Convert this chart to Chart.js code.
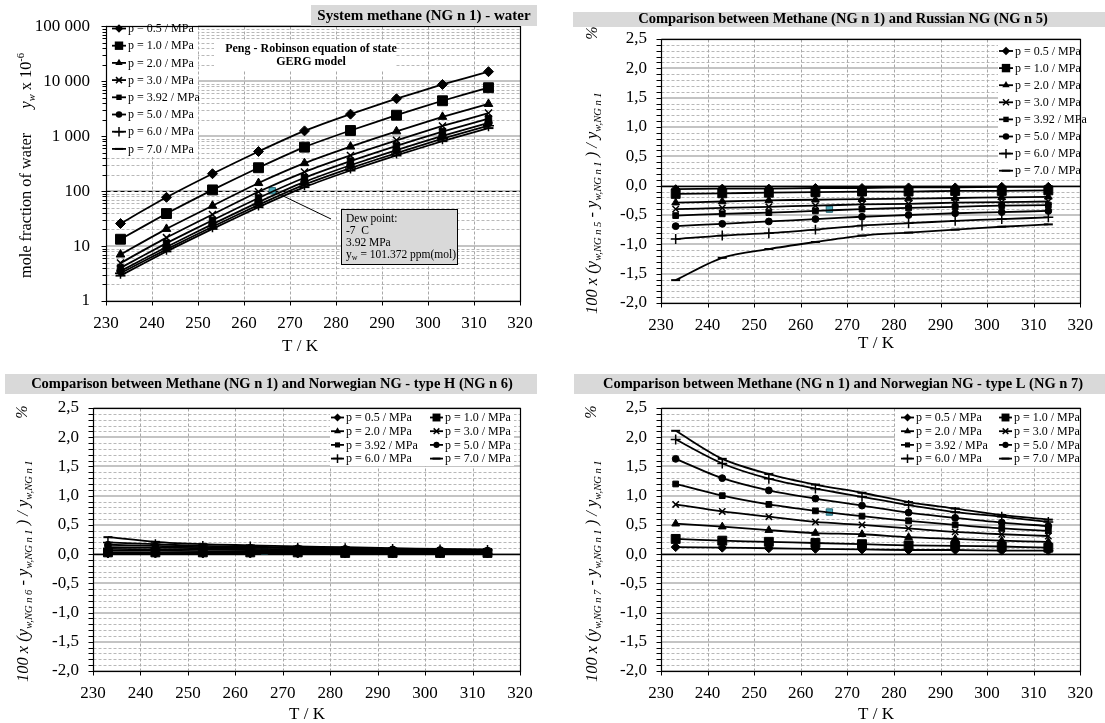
<!DOCTYPE html>
<html><head><meta charset="utf-8">
<script src="https://cdn.jsdelivr.net/npm/chart.js@4.4.1/dist/chart.umd.min.js"></script>
<style>
html,body{margin:0;padding:0;background:#fff;width:1105px;height:723px;overflow:hidden}
canvas{position:absolute;left:0;top:0}
</style>
</head><body>
<canvas id="c1" width="1105" height="723"></canvas>
<canvas id="c2" width="1105" height="723"></canvas>
<canvas id="c3" width="1105" height="723"></canvas>
<canvas id="c4" width="1105" height="723"></canvas>
<script>
// ---------------- DATA ----------------
const T_K = [233.15, 243.15, 253.15, 263.15, 273.15, 283.15, 293.15, 303.15, 313.15];
const xTickValues = [230, 240, 250, 260, 270, 280, 290, 300, 310, 320];
const logTickValues = [1, 10, 100, 1000, 10000, 100000];
const pctTickValues = [-2.0, -1.5, -1.0, -0.5, 0.0, 0.5, 1.0, 1.5, 2.0, 2.5];
const seriesLabels = ['p = 0.5 / MPa', 'p = 1.0 / MPa', 'p = 2.0 / MPa', 'p = 3.0 / MPa',
                      'p = 3.92 / MPa', 'p = 5.0 / MPa', 'p = 6.0 / MPa', 'p = 7.0 / MPa'];

// Panel 1: mole fraction of water y_w x 10^-6 (methane NG n 1)
const water_p05  = [25.7, 77, 207, 525, 1245, 2510, 4790, 8700, 14900];
const water_p10  = [13.3, 39, 105, 266, 630, 1265, 2400, 4400, 7600];
const water_p20  = [7.0, 20.5, 54, 140, 322, 645, 1220, 2240, 3850];
const water_p30  = [4.9, 14.2, 37.5, 97, 222, 445, 840, 1530, 2620];
const water_p392 = [4.0, 11.3, 29.5, 75, 175, 352, 665, 1210, 2080];
const water_p50  = [3.5, 9.6, 25, 63, 147, 295, 555, 1010, 1740];
const water_p60  = [3.2, 8.7, 22.5, 56, 131, 262, 492, 900, 1550];
const water_p70  = [2.9, 8.0, 20.5, 51, 118, 237, 445, 810, 1400];

// Panel 2: Russian NG (NG n 5) vs methane, %
const rus_p05  = [-0.06, -0.05, -0.05, -0.04, -0.04, -0.03, -0.03, -0.02, -0.02];
const rus_p10  = [-0.14, -0.13, -0.12, -0.11, -0.10, -0.10, -0.09, -0.09, -0.08];
const rus_p20  = [-0.29, -0.27, -0.25, -0.24, -0.23, -0.22, -0.21, -0.20, -0.19];
const rus_p30  = [-0.40, -0.38, -0.36, -0.34, -0.32, -0.31, -0.29, -0.28, -0.27];
const rus_p392 = [-0.51, -0.48, -0.46, -0.43, -0.40, -0.38, -0.36, -0.34, -0.33];
const rus_p50  = [-0.69, -0.65, -0.61, -0.57, -0.53, -0.50, -0.47, -0.45, -0.43];
const rus_p60  = [-0.91, -0.85, -0.81, -0.75, -0.68, -0.64, -0.60, -0.57, -0.54];
const rus_p70  = [-1.61, -1.23, -1.08, -0.96, -0.85, -0.80, -0.75, -0.70, -0.66];

// Panel 3: Norwegian NG type H (NG n 6) vs methane, %
const norH_p05  = [0.01, 0.01, 0.01, 0.01, 0.01, 0.01, 0.01, 0.01, 0.01];
const norH_p10  = [0.03, 0.03, 0.03, 0.03, 0.03, 0.02, 0.02, 0.02, 0.02];
const norH_p20  = [0.06, 0.06, 0.05, 0.05, 0.05, 0.04, 0.04, 0.04, 0.04];
const norH_p30  = [0.09, 0.08, 0.08, 0.07, 0.06, 0.06, 0.05, 0.05, 0.05];
const norH_p392 = [0.12, 0.11, 0.10, 0.09, 0.08, 0.07, 0.07, 0.06, 0.05];
const norH_p50  = [0.16, 0.14, 0.12, 0.11, 0.10, 0.09, 0.08, 0.07, 0.06];
const norH_p60  = [0.20, 0.17, 0.14, 0.13, 0.11, 0.10, 0.09, 0.08, 0.07];
const norH_p70  = [0.29, 0.21, 0.17, 0.15, 0.13, 0.12, 0.10, 0.09, 0.08];

// Panel 4: Norwegian NG type L (NG n 7) vs methane, %
const norL_p05  = [0.12, 0.11, 0.10, 0.09, 0.08, 0.07, 0.07, 0.06, 0.06];
const norL_p10  = [0.26, 0.23, 0.21, 0.19, 0.17, 0.15, 0.14, 0.13, 0.11];
const norL_p20  = [0.52, 0.47, 0.41, 0.36, 0.34, 0.29, 0.26, 0.23, 0.21];
const norL_p30  = [0.85, 0.73, 0.64, 0.55, 0.50, 0.44, 0.38, 0.34, 0.31];
const norL_p392 = [1.20, 1.00, 0.85, 0.74, 0.65, 0.57, 0.50, 0.44, 0.40];
const norL_p50  = [1.63, 1.30, 1.09, 0.95, 0.83, 0.71, 0.62, 0.54, 0.48];
const norL_p60  = [1.96, 1.55, 1.29, 1.12, 0.98, 0.84, 0.72, 0.64, 0.55];
const norL_p70  = [2.11, 1.63, 1.37, 1.19, 1.05, 0.89, 0.78, 0.67, 0.59];

// Dew point marker (T = -7 C, 3.92 MPa)
const dewT = [266.15];
const dewWater = [101.372];
const dewRus = [-0.40];
const dewNorH = [0.05];
const dewNorL = [0.72];

// ---------------- STYLE ----------------
const FONT = '"Liberation Serif", "Times New Roman", serif';
const markerStyles = [
  {s: 'rectRot', r: 5, bw: 1},
  {s: 'rect', r: 7, bw: 1},
  {s: 'triangle', r: 5, bw: 1},
  {s: 'crossRot', r: 5, bw: 1.5},
  {s: 'rect', r: 4.5, bw: 1},
  {s: 'circle', r: 3.8, bw: 1},
  {s: 'cross', r: 5.5, bw: 1.5},
  {s: 'line', r: 5, bw: 2}
];

function buildDatasets(seriesList, dewVals, scaleMarker, tension) {
  const ds = seriesList.map((vals, i) => ({
    label: seriesLabels[i],
    data: T_K.map((t, j) => ({x: t, y: vals[j]})),
    borderColor: '#000', backgroundColor: '#000',
    borderWidth: 1.8,
    pointStyle: markerStyles[i].s,
    pointRadius: markerStyles[i].r * scaleMarker,
    pointBorderWidth: markerStyles[i].bw,
    pointBorderColor: '#000', pointBackgroundColor: '#000',
    tension: tension, fill: false, clip: false
  }));
  ds.push({
    label: 'Dew point',
    data: dewT.map((t, j) => ({x: t, y: dewVals[j]})),
    showLine: false, pointStyle: 'rect', pointRadius: 4.5,
    pointBackgroundColor: '#4aa8b8', pointBorderColor: '#2a6a78', pointBorderWidth: 1,
    borderColor: '#2a6a78', backgroundColor: '#4aa8b8'
  });
  return ds;
}

// -------------- drawing helpers --------------
function drawMarker(ctx, style, r, bw, x, y) {
  ctx.save();
  ctx.fillStyle = '#000'; ctx.strokeStyle = '#000'; ctx.lineWidth = bw;
  ctx.beginPath();
  switch (style) {
    case 'circle': ctx.arc(x, y, r, 0, Math.PI * 2); ctx.fill(); break;
    case 'rect': { const h = r * Math.SQRT1_2; ctx.rect(x - h, y - h, 2 * h, 2 * h); ctx.fill(); break; }
    case 'rectRot': ctx.moveTo(x - r, y); ctx.lineTo(x, y - r); ctx.lineTo(x + r, y); ctx.lineTo(x, y + r); ctx.closePath(); ctx.fill(); break;
    case 'triangle': ctx.moveTo(x, y - r); ctx.lineTo(x + r * 0.866, y + r * 0.5); ctx.lineTo(x - r * 0.866, y + r * 0.5); ctx.closePath(); ctx.fill(); break;
    case 'crossRot': { const d = r * 0.707; ctx.moveTo(x - d, y - d); ctx.lineTo(x + d, y + d); ctx.moveTo(x + d, y - d); ctx.lineTo(x - d, y + d); ctx.stroke(); break; }
    case 'cross': ctx.moveTo(x - r, y); ctx.lineTo(x + r, y); ctx.moveTo(x, y - r); ctx.lineTo(x, y + r); ctx.stroke(); break;
    case 'line': ctx.moveTo(x - r, y); ctx.lineTo(x + r, y); ctx.stroke(); break;
  }
  ctx.restore();
}

function fontStr(p) { return (p.i ? 'italic ' : '') + (p.b ? 'bold ' : '') + p.s + 'px ' + FONT; }
function drawRich(ctx, parts, x, y) {
  let cx = x;
  for (const p of parts) { ctx.font = fontStr(p); ctx.fillText(p.t, cx, y + (p.dy || 0)); cx += ctx.measureText(p.t).width; }
}
// rotated text starting at canvas y = yStart (bottom) going up, vertically centred on cx
function drawRotated(ctx, parts, cx, yStart, base) {
  ctx.save(); ctx.translate(cx, yStart); ctx.rotate(-Math.PI / 2);
  ctx.fillStyle = '#000'; ctx.textAlign = 'left'; ctx.textBaseline = 'alphabetic';
  drawRich(ctx, parts, 0, base); ctx.restore();
}

function hline(ctx, x1, x2, y, color, w, dash) {
  ctx.save(); ctx.strokeStyle = color; ctx.lineWidth = w; ctx.setLineDash(dash || []);
  ctx.beginPath(); ctx.moveTo(x1, y); ctx.lineTo(x2, y); ctx.stroke(); ctx.restore();
}
function vline(ctx, x, y1, y2, color, w, dash) {
  ctx.save(); ctx.strokeStyle = color; ctx.lineWidth = w; ctx.setLineDash(dash || []);
  ctx.beginPath(); ctx.moveTo(x, y1); ctx.lineTo(x, y2); ctx.stroke(); ctx.restore();
}

const GRID_MINOR = '#b8b8b8';
const GRID_MAJOR = '#c4c4c4';

function decoPlugin(cfg) {
  return {
    id: 'deco',
    beforeDatasetsDraw(chart) {
      const ctx = chart.ctx, a = chart.chartArea, xs = chart.scales.x, ys = chart.scales.y;
      const L = Math.round(a.left) + 0.5, R = Math.round(a.right) + 0.5, Tp = Math.round(a.top) + 0.5, B = Math.round(a.bottom) + 0.5;
      if (cfg.log) {
        for (let d = 1; d < 100000; d *= 10) {
          for (let k = 2; k <= 9; k++) { const y = Math.round(ys.getPixelForValue(d * k)) + 0.5; hline(ctx, L, R, y, GRID_MINOR, 1, [3, 2]); }
        }
        for (const v of logTickValues) { const y = Math.round(ys.getPixelForValue(v)); hline(ctx, L, R, y, GRID_MAJOR, 2); }
      } else {
        for (let v = -2.0; v <= 2.5001; v += 0.1) {
          const vv = Math.round(v * 10) / 10;
          if (Math.abs(vv * 2 - Math.round(vv * 2)) < 1e-6) continue;
          const y = Math.round(ys.getPixelForValue(vv)) + 0.5; hline(ctx, L, R, y, GRID_MINOR, 1, [3, 2]);
        }
        for (const v of pctTickValues) { const y = Math.round(ys.getPixelForValue(v)); hline(ctx, L, R, y, GRID_MAJOR, 2); }
      }
      for (const v of xTickValues) { const x = Math.round(xs.getPixelForValue(v)) + 0.5; vline(ctx, x, Tp, B, '#a8a8a8', 1, [3, 2]); }
      if (cfg.log) { const y = Math.round(ys.getPixelForValue(100)) + 0.5; hline(ctx, L, R, y, '#000', 1, [4, 3]); }
      else { const y = Math.round(ys.getPixelForValue(0)) + 0.5; hline(ctx, L, R, y, '#000', 1.5); }
      ctx.save(); ctx.fillStyle = '#fff';
      for (const b of cfg.whiteBoxes) ctx.fillRect(b[0], b[1], b[2], b[3]);
      ctx.restore();
      ctx.save(); ctx.strokeStyle = '#000'; ctx.lineWidth = 1.2; ctx.strokeRect(L, Tp, R - L, B - Tp); ctx.restore();
      for (const v of xTickValues) { const x = Math.round(xs.getPixelForValue(v)) + 0.5; vline(ctx, x, B, B + 4, '#000', 1); }
      if (cfg.log) {
        for (let d = 1; d < 100000; d *= 10) for (let k = 1; k <= 9; k++) { const y = Math.round(ys.getPixelForValue(d * k)) + 0.5; hline(ctx, L - (k === 1 ? 5 : 4), L, y, '#000', 1); }
        hline(ctx, L - 5, L, Tp, '#000', 1);
      } else {
        for (let v = -2.0; v <= 2.5001; v += 0.1) { const y = Math.round(ys.getPixelForValue(Math.round(v * 10) / 10)) + 0.5; hline(ctx, L - 5, L, y, '#000', 1); }
      }
      if (cfg.dewBox) {
        const px = xs.getPixelForValue(dewT[0]), py = ys.getPixelForValue(dewWater[0]);
        ctx.save(); ctx.strokeStyle = '#000'; ctx.lineWidth = 1; ctx.beginPath(); ctx.moveTo(px, py); ctx.lineTo(cfg.dewBox.lx, cfg.dewBox.ly); ctx.stroke(); ctx.restore();
      }
    },
    afterDatasetsDraw(chart) {
      const ctx = chart.ctx;
      const lg = cfg.legend;
      const sets = chart.data.datasets.slice(0, 8);
      ctx.save();
      sets.forEach((d, i) => {
        const col = i % lg.cols, row = Math.floor(i / lg.cols);
        const x0 = lg.xs[col], y = lg.y0 + row * lg.dy;
        hline(ctx, x0, x0 + lg.len, y, '#000', 1.8);
        const m = markerStyles[i];
        drawMarker(ctx, m.s, m.r * lg.ms, m.bw, x0 + lg.len / 2, y);
        ctx.fillStyle = '#000'; ctx.font = lg.font + 'px ' + FONT; ctx.textBaseline = 'middle'; ctx.textAlign = 'left';
        ctx.fillText(d.label, x0 + lg.len + 2, y + 0.5);
      });
      ctx.restore();
      const t = cfg.title;
      ctx.save(); ctx.fillStyle = '#d9d9d9'; ctx.fillRect(t.x, t.y, t.w, t.h);
      ctx.fillStyle = '#000'; ctx.font = 'bold ' + t.fs + 'px ' + FONT; ctx.textAlign = 'center'; ctx.textBaseline = 'middle';
      ctx.fillText(t.text, t.cx, t.cy); ctx.restore();
      ctx.save(); ctx.fillStyle = '#000'; ctx.font = '17px ' + FONT; ctx.textAlign = 'center'; ctx.textBaseline = 'middle';
      ctx.fillText('T / K', cfg.xTitle[0], cfg.xTitle[1]); ctx.restore();
      drawRotated(ctx, cfg.yTitle.parts, cfg.yTitle.cx, cfg.yTitle.y0, cfg.yTitle.base);
      if (cfg.yTitle.pct) {
        const pc = cfg.yTitle.pct;
        ctx.save(); ctx.font = 'italic 16px ' + FONT; const w = ctx.measureText('%').width; ctx.restore();
        drawRotated(ctx, [{t: '%', s: 16, i: true}], pc[0], pc[1] + w / 2, 5.5);
      }
      if (cfg.extra) cfg.extra(ctx, chart);
    }
  };
}

const Y_AXIS_W = 90;
function makeChart(id, cfg) {
  const yScale = cfg.log ? {
    type: 'logarithmic', min: 1, max: 100000,
    afterBuildTicks: s => { s.ticks = logTickValues.map(v => ({value: v})); },
    ticks: {
      color: '#000', font: {family: 'Liberation Serif', size: 17}, padding: cfg.yPad, autoSkip: false,
      callback: v => String(v).replace(/\B(?=(\d{3})+(?!\d))/g, ' ')
    }
  } : {
    type: 'linear', min: -2.0, max: 2.5,
    afterBuildTicks: s => { s.ticks = pctTickValues.map(v => ({value: v})); },
    ticks: {
      color: '#000', font: {family: 'Liberation Serif', size: 17}, padding: cfg.yPad, autoSkip: false,
      callback: v => (Math.abs(v) < 1e-9 ? 0 : v).toFixed(1).replace('.', ',')
    }
  };
  Object.assign(yScale, {
    grid: {display: false, drawTicks: false}, border: {display: false},
    afterFit: s => { s.width = Y_AXIS_W; }
  });
  const p = cfg.plot;
  return new Chart(document.getElementById(id), {
    type: 'line',
    data: {datasets: cfg.datasets},
    options: {
      responsive: false, animation: false, events: [],
      layout: {padding: {left: p.l - Y_AXIS_W, right: 1105 - p.r, top: p.t, bottom: 723 - p.b - 40}},
      plugins: {legend: {display: false}, tooltip: {enabled: false}},
      scales: {
        x: {
          type: 'linear', min: 230, max: 320,
          afterBuildTicks: s => { s.ticks = xTickValues.map(v => ({value: v})); },
          grid: {display: false, drawTicks: false}, border: {display: false},
          ticks: {color: '#000', font: {family: 'Liberation Serif', size: 17}, padding: 12, maxRotation: 0, autoSkip: false},
          afterFit: s => { s.height = 40; }
        },
        y: yScale
      }
    },
    plugins: [decoPlugin(cfg)]
  });
}

function pctTitle(n) {
  return [
    {t: '100 x (', s: 16.5, i: true},
    {t: 'y', s: 16.5, i: true}, {t: 'w,NG n ' + n, s: 10.5, i: true, dy: 4},
    {t: ' - ', s: 16.5, i: true},
    {t: 'y', s: 16.5, i: true}, {t: 'w,NG n 1', s: 10.5, i: true, dy: 4},
    {t: ' ) / ', s: 16.5, i: true},
    {t: 'y', s: 16.5, i: true}, {t: 'w,NG n 1', s: 10.5, i: true, dy: 4}
  ];
}

// ---------- Panel 1 ----------
makeChart('c1', {
  log: true, yPad: 16,
  plot: {l: 106, r: 520, t: 16, b: 301},
  datasets: buildDatasets([water_p05, water_p10, water_p20, water_p30, water_p392, water_p50, water_p60, water_p70], dewWater, 1, 0.15),
  whiteBoxes: [[107, 17, 91, 140], [214, 41, 182, 29]],
  legend: {cols: 1, xs: [112], y0: 28.5, dy: 17.2, len: 14, ms: 0.85, font: 12},
  title: {x: 311, y: 5, w: 226, h: 21, text: 'System methane (NG n 1) - water', cx: 424, cy: 16.5, fs: 15},
  xTitle: [300, 347],
  yTitle: {cx: 25, y0: 278, base: 6, parts: [
    {t: 'mole fraction of water', s: 16.3}, {t: '      ', s: 16.3},
    {t: 'y', s: 16.3, i: true}, {t: 'w', s: 10.5, i: true, dy: 4},
    {t: ' x 10', s: 16.3}, {t: '-6', s: 10.5, dy: -7}
  ]},
  dewBox: {lx: 331, ly: 219},
  extra: (ctx) => {
    ctx.save();
    ctx.fillStyle = '#000'; ctx.font = 'bold 12px ' + FONT; ctx.textAlign = 'center'; ctx.textBaseline = 'middle';
    ctx.fillText('Peng - Robinson equation of state', 311, 48.5);
    ctx.fillText('GERG model', 311, 62);
    ctx.fillStyle = '#d9d9d9'; ctx.fillRect(341, 209, 116, 55);
    ctx.strokeStyle = '#000'; ctx.lineWidth = 1; ctx.strokeRect(341.5, 209.5, 116, 55);
    ctx.fillStyle = '#000'; ctx.font = '11.5px ' + FONT; ctx.textAlign = 'left'; ctx.textBaseline = 'middle';
    ctx.fillText('Dew point:', 346, 219);
    ctx.fillText('-7  C', 346, 231);
    ctx.fillText('3.92 MPa', 346, 243);
    ctx.textBaseline = 'alphabetic';
    drawRich(ctx, [{t: 'y', s: 11.5}, {t: 'w', s: 8, dy: 2}, {t: ' = 101.372 ppm(mol)', s: 11.5}], 346, 258);
    ctx.restore();
  }
});

// ---------- Panel 2 ----------
makeChart('c2', {
  log: false, yPad: 14,
  plot: {l: 661, r: 1090, t: 39, b: 303},
  datasets: buildDatasets([rus_p05, rus_p10, rus_p20, rus_p30, rus_p392, rus_p50, rus_p60, rus_p70], dewRus, 0.9, 0.3),
  whiteBoxes: [[998, 40, 91, 140]],
  legend: {cols: 1, xs: [999], y0: 51, dy: 17.1, len: 14, ms: 0.85, font: 12},
  title: {x: 573, y: 12, w: 532, h: 15, text: 'Comparison between Methane (NG n 1) and Russian NG (NG n 5)', cx: 843, cy: 19.5, fs: 14.5},
  xTitle: [876, 344],
  yTitle: {cx: 591, y0: 314, base: 6, parts: pctTitle(5), pct: [591, 33]}
});

// ---------- Panel 3 ----------
makeChart('c3', {
  log: false, yPad: 14,
  plot: {l: 93, r: 520, t: 408, b: 671},
  datasets: buildDatasets([norH_p05, norH_p10, norH_p20, norH_p30, norH_p392, norH_p50, norH_p60, norH_p70], dewNorH, 0.9, 0.3),
  whiteBoxes: [[330, 409, 184, 57]],
  legend: {cols: 2, xs: [331, 430], y0: 417.5, dy: 13.7, len: 13, ms: 0.8, font: 12},
  title: {x: 5, y: 374, w: 532, h: 20, text: 'Comparison between Methane (NG n 1) and Norwegian NG - type H (NG n 6)', cx: 272, cy: 384, fs: 14.5},
  xTitle: [307, 715],
  yTitle: {cx: 22, y0: 682, base: 6, parts: pctTitle(6), pct: [21, 412]}
});

// ---------- Panel 4 ----------
makeChart('c4', {
  log: false, yPad: 14,
  plot: {l: 661, r: 1090, t: 408, b: 671},
  datasets: buildDatasets([norL_p05, norL_p10, norL_p20, norL_p30, norL_p392, norL_p50, norL_p60, norL_p70], dewNorL, 0.9, 0.3),
  whiteBoxes: [[895, 409, 194, 57]],
  legend: {cols: 2, xs: [901, 999], y0: 417.5, dy: 13.7, len: 13, ms: 0.8, font: 12},
  title: {x: 574, y: 374, w: 531, h: 20, text: 'Comparison between Methane (NG n 1) and Norwegian NG - type L (NG n 7)', cx: 843, cy: 384, fs: 14.5},
  xTitle: [876, 715],
  yTitle: {cx: 591, y0: 682, base: 6, parts: pctTitle(7), pct: [590, 412]}
});
</script>
</body></html>
